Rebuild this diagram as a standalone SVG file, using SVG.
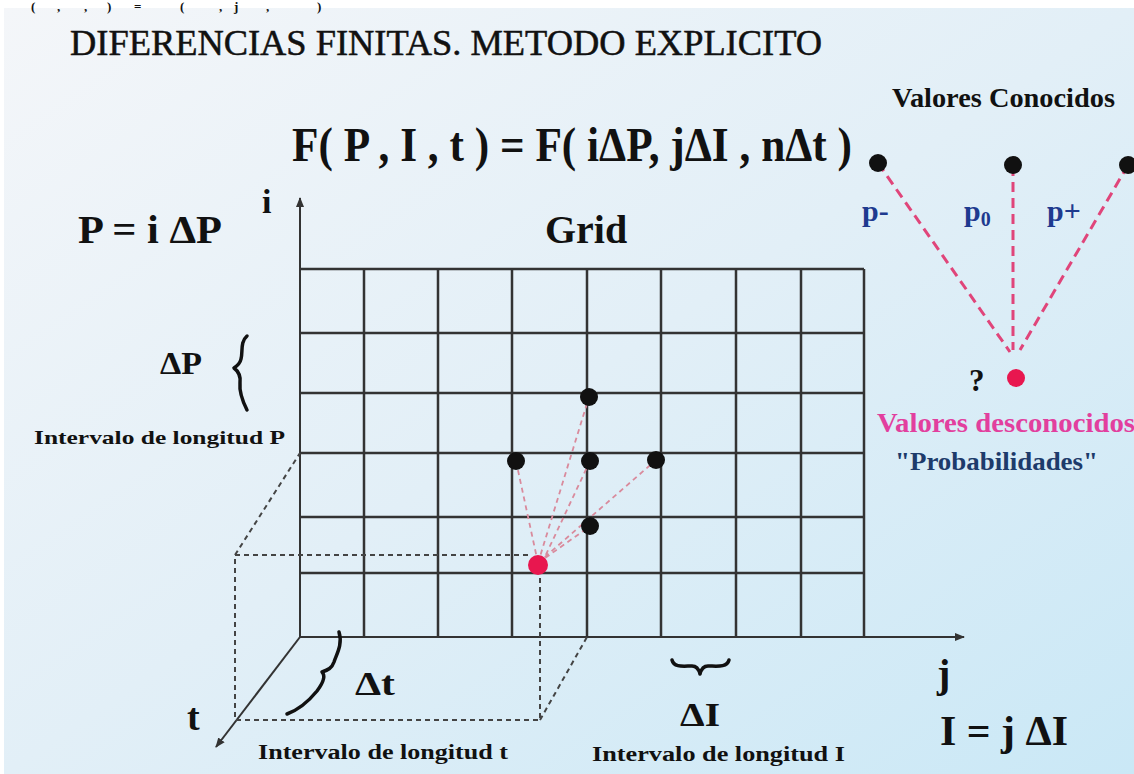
<svg xmlns="http://www.w3.org/2000/svg" width="1134" height="774" viewBox="0 0 1134 774">
<defs>
<linearGradient id="bg" x1="0" y1="0" x2="1" y2="1">
<stop offset="0" stop-color="#f4f6f9"/>
<stop offset="0.5" stop-color="#e2eff7"/>
<stop offset="1" stop-color="#cae8f6"/>
</linearGradient>
<marker id="arr" viewBox="0 0 10 10" refX="9" refY="5" markerWidth="5" markerHeight="5" orient="auto" markerUnits="strokeWidth">
<path d="M0,1 L10,5 L0,9 z" fill="#333"/>
</marker>
<style>
.t{font-family:"Liberation Serif","DejaVu Serif","Times New Roman",serif;fill:#111}
.b{font-weight:bold}
.grid{stroke:#333;stroke-width:2.5;fill:none}
.axis{stroke:#333;stroke-width:2;fill:none}
.dk{stroke:#444;stroke-width:2;stroke-dasharray:5 4;fill:none}
.pk{stroke:#d98a9c;stroke-width:1.8;stroke-dasharray:5 4;fill:none}
.pk2{stroke:#e0457a;stroke-width:3;stroke-dasharray:10 6;fill:none}
.brace{stroke:#111;stroke-width:3.5;fill:none;stroke-linecap:round;stroke-linejoin:round}
.dot{fill:#111}
.red{fill:#e8174f}
</style>
</defs>
<rect width="1134" height="774" fill="#ffffff"/>
<rect x="4" y="8" width="1130" height="766" fill="url(#bg)"/>

<g id="cut-formula">
<text class="t b" y="11" font-size="13"><tspan x="31">(</tspan><tspan x="57">,</tspan><tspan x="84">,</tspan><tspan x="107">)</tspan><tspan x="134">=</tspan><tspan x="180">(</tspan><tspan x="219">,</tspan><tspan x="234">j</tspan><tspan x="266">,</tspan><tspan x="317">)</tspan></text>
</g>

<g id="title">
<text class="t" x="70" y="55" font-size="35" textLength="752" lengthAdjust="spacingAndGlyphs" stroke="#111" stroke-width="0.5">DIFERENCIAS FINITAS. METODO EXPLICITO</text>
</g>

<g id="formula">
<text class="t b" x="292" y="161" font-size="48" textLength="560" lengthAdjust="spacingAndGlyphs">F( P , I , t ) = F( iΔP, jΔI , nΔt )</text>
</g>

<g id="grid">
<path class="grid" d="M300,269 H864 M300,333 H864 M300,393 H864 M300,453 H864 M300,517 H864 M300,573 H864"/>
<path class="grid" d="M364,269 V637 M438,269 V637 M512,269 V637 M587,269 V637 M661,269 V637 M736,269 V637 M801,269 V637 M864,269 V637"/>
</g>

<g id="connectors">
<line class="axis" x1="300" y1="637" x2="300" y2="198" marker-end="url(#arr)"/>
<line class="axis" x1="300" y1="637" x2="964" y2="637" marker-end="url(#arr)"/>
<line class="axis" x1="300" y1="637" x2="216" y2="747" marker-end="url(#arr)"/>
<path class="dk" d="M528,555 H235 V720 H540 V572"/>
<path class="dk" d="M235,555 L300,453"/>
<path class="dk" d="M540,720 L587,637"/>
<path class="pk" d="M538,563 L516,461 M538,563 L589,397 M542,563 L590,461 M538,563 L656,460 M538,563 L589,527"/>
<path class="pk2" d="M878,163 L1010,352 M1013,166 L1013,350 M1128,165 L1020,350"/>
</g>

<g id="dots">
<circle class="dot" cx="589" cy="397" r="9"/>
<circle class="dot" cx="516" cy="461" r="9"/>
<circle class="dot" cx="590" cy="461" r="9"/>
<circle class="dot" cx="656" cy="460" r="9"/>
<circle class="dot" cx="590" cy="526" r="9"/>
<circle class="red" cx="538" cy="565" r="10"/>
</g>

<g id="braces">
<path class="brace" d="M247,336 C240,342 243,352 241,359 C240,364 237,366 234,368 C238,371 241,375 240,383 C239,393 243,402 247,410"/>
<path class="brace" d="M339,632 C343,645 336,655 334,662 C332,668 328,670 322,672 C326,676 323,683 317,691 C308,702 298,710 287,714"/>
<path class="brace" d="M672,660 C674,668 684,666 692,666 C697,666 699,670 700,674 C701,670 703,666 708,666 C716,666 727,668 729,660"/>
</g>

<g id="left-labels">
<text class="t b" x="78" y="243" font-size="40" textLength="144" lengthAdjust="spacingAndGlyphs">P = i ΔP</text>
<text class="t b" x="262" y="213" font-size="34">i</text>
<text class="t b" x="545" y="243" font-size="40">Grid</text>
<text class="t b" x="160" y="374" font-size="32" textLength="42" lengthAdjust="spacingAndGlyphs">ΔP</text>
<text class="t b" x="34" y="444" font-size="19" textLength="251" lengthAdjust="spacingAndGlyphs">Intervalo de longitud P</text>
</g>

<g id="bottom-labels">
<text class="t b" x="355" y="695" font-size="33" textLength="40" lengthAdjust="spacingAndGlyphs">Δt</text>
<text class="t b" x="187" y="730" font-size="38">t</text>
<text class="t b" x="258" y="759" font-size="20" textLength="250" lengthAdjust="spacingAndGlyphs">Intervalo de longitud t</text>
<text class="t b" x="680" y="726" font-size="33" textLength="40" lengthAdjust="spacingAndGlyphs">ΔI</text>
<text class="t b" x="592" y="761" font-size="20" textLength="253" lengthAdjust="spacingAndGlyphs">Intervalo de longitud I</text>
<text class="t b" x="937" y="687" font-size="40">j</text>
<text class="t b" x="940" y="745" font-size="42" textLength="128" lengthAdjust="spacingAndGlyphs">I = j ΔI</text>
</g>

<g id="known-values">
<text class="t b" x="892" y="107" font-size="27" textLength="223" lengthAdjust="spacingAndGlyphs">Valores Conocidos</text>
<circle class="dot" cx="878" cy="163" r="9"/>
<circle class="dot" cx="1013" cy="165" r="9"/>
<circle class="dot" cx="1128" cy="165" r="9"/>
<text class="t b" x="862" y="221" font-size="30" style="fill:#1e3a8f">p-</text>
<text class="t b" x="964" y="221" font-size="30" style="fill:#1e3a8f">p<tspan font-size="20" dy="5">0</tspan></text>
<text class="t b" x="1047" y="221" font-size="30" style="fill:#1e3a8f">p+</text>
</g>

<g id="unknown-values">
<circle class="red" cx="1016" cy="378" r="9"/>
<text class="t b" x="969" y="391" font-size="31">?</text>
<text class="t b" x="877" y="432" font-size="28" textLength="258" lengthAdjust="spacingAndGlyphs" style="fill:#e23f9e">Valores desconocidos</text>
<text class="t b" x="895" y="470" font-size="26" textLength="203" lengthAdjust="spacingAndGlyphs" style="fill:#1d3b6b">"Probabilidades"</text>
</g>
</svg>
